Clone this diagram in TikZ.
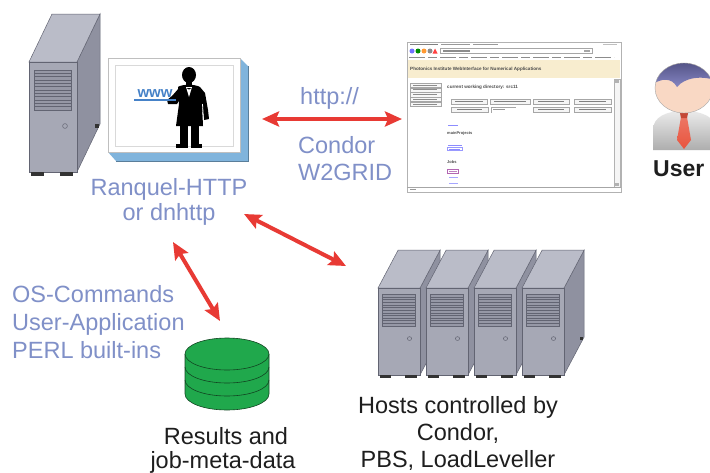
\documentclass[tikz,border=0pt]{standalone}
\usepackage{fontspec}
\setmainfont{Liberation Sans}
\usetikzlibrary{arrows.meta}

\definecolor{labelblue}{RGB}{128,144,200}
\definecolor{arrowred}{RGB}{232,58,52}
\definecolor{casefront}{RGB}{166,168,181}
\definecolor{casetop}{RGB}{186,188,200}
\definecolor{caseside}{RGB}{143,145,160}
\definecolor{caseline}{RGB}{98,100,114}
\definecolor{ventfill}{RGB}{150,152,166}
\definecolor{diskgreen}{RGB}{32,168,76}
\definecolor{diskline}{RGB}{18,70,34}
\definecolor{shadowblue}{RGB}{128,180,220}
\definecolor{wwwblue}{RGB}{70,130,200}
\definecolor{pagebeige}{RGB}{248,237,207}
\definecolor{hairpurple}{RGB}{112,112,184}
\definecolor{skin}{RGB}{249,216,196}
\definecolor{tiered}{RGB}{232,84,62}
\definecolor{textdark}{RGB}{30,30,30}

\tikzset{
  lbl/.style={text=labelblue, inner sep=0pt, font=\fontsize{23.5}{26}\selectfont},
  blk/.style={text=textdark, inner sep=0pt, font=\fontsize{23.5}{26}\selectfont},
  tinytext/.style={inner sep=0pt, text=black!70, font=\fontsize{4}{4}\selectfont\bfseries},
  redarrow/.style={draw=arrowred, line width=4pt,
    arrows={Stealth[length=17pt,width=15pt,inset=3pt]-Stealth[length=17pt,width=15pt,inset=3pt]}},
  webbtn/.style={draw=black!35, fill=black!4, line width=0.4pt},
  % a PC tower, origin at the top-left corner of its front panel
  tower/.pic={
    \filldraw[fill=caseside, draw=caseline, line width=0.5pt]
      (48,0) -- (71,-48) -- (71,62) -- (48,110) -- cycle;
    \filldraw[fill=casetop, draw=caseline, line width=0.5pt]
      (0,0) -- (23,-48) -- (71,-48) -- (48,0) -- cycle;
    \filldraw[fill=casefront, draw=caseline, line width=0.5pt]
      (0,0) rectangle (48,110);
    \filldraw[fill=ventfill, draw=caseline, line width=0.4pt]
      (5,8) rectangle (42,48);
    \foreach \i in {1,...,11}
      \draw[caseline, line width=0.4pt] (5,{8+3.33*\i}) -- (42,{8+3.33*\i});
    \draw[caseline, line width=0.5pt] (36,64) circle[radius=2.4pt];
    \fill[black!80] (2,110) rectangle (15,114);
    \fill[black!80] (31,110) rectangle (44,114);
    \fill[black!80] (66,62) rectangle (70,66);
  }
}

\begin{document}
\begin{tikzpicture}[x=1pt, y=-1pt]
\useasboundingbox[fill=white] (0,0) rectangle (710,472);

% ---------------- web server ----------------
\pic (srv) at (29,62) {tower};

% framed picture of the waiter with the www tray
\fill[shadowblue] (240,58) -- (248,66) -- (248,161) -- (116,161) -- (108,152) -- (240,152) -- cycle;
\draw[shadowblue!70!black, line width=0.4pt] (248,66) -- (248,161) -- (116,161);
\filldraw[fill=white, draw=black!25, line width=0.5pt] (108,58) rectangle (240,152);
\draw[black!15, line width=0.5pt] (115,65) rectangle (233,146);

% waiter silhouette
\fill[black] (189,75) ellipse[x radius=7pt, y radius=8pt];
\fill[black] (186,80) rectangle (192,87);
\fill[black] (178,87) .. controls (182,84) and (195,84) .. (200,87)
  -- (205,93) -- (208,110) -- (209,119) -- (204,120) -- (202,104)
  -- (203,126) -- (176,126) -- (179,104) -- (178,96) -- cycle;
\fill[black] (179,88) -- (172,96) -- (167,100) -- (168,104) -- (177,104) -- (180,99) -- cycle;
\fill[white] (186,87) -- (192,87) -- (189,97) -- cycle;
\fill[black] (186.5,88) -- (191.5,88) -- (189,89.5) -- cycle;
\draw[white, line width=0.8pt] (202.5,104) -- (203.5,120);
\fill[black] (180,125) rectangle (187.5,145);
\fill[black] (191,125) rectangle (198.5,145);
\fill[black] (176,144) rectangle (187.5,148);
\fill[black] (191,144) rectangle (202,148);
\draw[wwwblue, line width=2.6pt] (134,100) -- (176,100);
\node[inner sep=0pt, text=wwwblue, anchor=base, font=\fontsize{15}{15}\selectfont\bfseries]
  (www) at (155,97) {www};

\node[lbl, anchor=base] (ranquel) at (169,195) {Ranquel-HTTP};
\node[lbl, anchor=base] (dnhttp) at (169,220) {or dnhttp};

% ---------------- browser window ----------------
\filldraw[fill=white, draw=black!30, line width=0.5pt] (407,42) rectangle (621,192);
\fill[black!50] (410,43.5) rectangle (438,45);
\fill[black!40] (441,43.5) rectangle (470,45);
\fill[black!40] (473,43.5) rectangle (498,45);
\fill[black!25] (603,43.5) rectangle (617,45);
\fill[blue!55] (412,51) circle[radius=2.5pt];
\fill[green!55!black] (418,51) circle[radius=2.5pt];
\fill[orange!80] (424,51) circle[radius=2.5pt];
\fill[black!45] (430,51) circle[radius=2.5pt];
\fill[red!75] (435,48.5) -- (437.5,53.5) -- (432.5,53.5) -- cycle;
\filldraw[fill=white, draw=black!35, line width=0.4pt] (440,48.5) rectangle (592,53.5);
\fill[black!45] (443,50.3) rectangle (470,51.7);
\fill[black!35] (584,50.3) rectangle (590,51.7);
\draw[black!45, line width=1.1pt, dash pattern=on 16pt off 3pt on 9pt off 3pt] (409,57.5) -- (614,57.5);
\fill[pagebeige] (408,60) rectangle (620,78);
\node[tinytext, anchor=west, font=\fontsize{4.6}{5}\selectfont\bfseries] (ptitle) at (410,69)
  {Photonics Institute WebInterface for Numerical Applications};
% left navigation
\foreach \yy in {83,87.8,92.6,97.4,102.2}
  \draw[black!35, fill=black!3, line width=0.4pt] (410,\yy) rectangle (441,{\yy+4.2});
\foreach \yy in {83,87.8,92.6,97.4,102.2}
  \fill[black!45] (413,{\yy+1.6}) rectangle (437,{\yy+2.6});
\node[tinytext, anchor=west, font=\fontsize{4.6}{5}\selectfont\bfseries] (cwd) at (447,87)
  {current working directory: src11};
% command buttons
\foreach \a/\b in {451/487,490/530,533/569,574/611}
  \filldraw[webbtn] (\a,99) rectangle (\b,104.5);
\foreach \a/\b in {451/488,533/569,574/611}
  \filldraw[webbtn] (\a,107) rectangle (\b,112.5);
\draw[black!35, line width=0.4pt] (491,112.5) -- (491,107) -- (516,107);
\foreach \a/\b in {455/483,494/526,538/564,579/606}
  \fill[black!50] (\a,101.3) rectangle (\b,102.3);
\foreach \a/\b in {457/482,538/564,579/606}
  \fill[black!50] (\a,109.3) rectangle (\b,110.3);
\fill[black!40] (493,109.3) rectangle (505,110.3);
\fill[blue!45] (448,124.5) rectangle (458,125.5);
\node[tinytext, anchor=west] (mainproj) at (447,133) {mainProjects};
\fill[blue!45] (448,145) rectangle (462,146);
\draw[blue!40, line width=0.4pt] (447.5,147.5) rectangle (462.5,150.5);
\fill[blue!45] (449,148.5) rectangle (460,149.5);
\node[tinytext, anchor=west] (jobs) at (447,162) {Jobs};
\draw[violet!60, line width=0.5pt] (447.5,169.5) rectangle (458.5,173.5);
\fill[violet!50] (449,171) rectangle (457,172);
\fill[blue!35] (449,177) rectangle (458,178);
\fill[blue!35] (449,183) rectangle (458,184);
% scroll bar and status bar
\filldraw[fill=black!4, draw=black!30, line width=0.4pt] (614,79) rectangle (620,187);
\fill[black!30] (615,80) rectangle (619,83);
\fill[black!30] (615,183) rectangle (619,186);
\draw[black!35, line width=0.4pt] (407,187) -- (621,187);
\fill[black!40] (410,189) rectangle (416,190.3);

% ---------------- user ----------------
\shade[top color=white!92!black, bottom color=black!32]
  (653,150) -- (653,130) .. controls (653,117) and (666,111) .. (684,111)
  .. controls (702,111) and (716,117) .. (716,130) -- (716,150) -- cycle;
\shade[top color=tiered!80!white, bottom color=tiered]
  (681,117) -- (687,117) -- (691,140) -- (684,149) -- (677,140) -- cycle;
\fill[tiered!85!black] (679.5,111) -- (688.5,111) -- (687,118) -- (681,118) -- cycle;
\begin{scope}
  \clip (684,88) ellipse[x radius=29pt, y radius=25pt];
  \fill[skin] (684,88) ellipse[x radius=29pt, y radius=25pt];
  \shade[top color=hairpurple!70!black, bottom color=hairpurple!85!white]
    (650,86) .. controls (662,77) and (672,78) .. (677,87)
    .. controls (684,78) and (702,74) .. (720,82) -- (720,60) -- (650,60) -- cycle;
\end{scope}
\draw[black!35, line width=0.4pt] (684,88) ellipse[x radius=29pt, y radius=25pt];
\node[inner sep=0pt, anchor=base west, text=textdark,
  font=\fontsize{23}{26}\selectfont\bfseries] (user) at (653,176) {User};

% ---------------- http link ----------------
\node[lbl, anchor=base west] (http) at (300,104) {http://};
\node[lbl, anchor=base west] (condor) at (298,153) {Condor};
\node[lbl, anchor=base west] (w2grid) at (298,180) {W2GRID};

% ---------------- compute hosts ----------------
\foreach \xx in {378,426,474,522}
  \pic[xscale=0.875, yscale=0.79] at (\xx,288) {tower};
\node[blk, anchor=base] (hosts1) at (458,413) {Hosts controlled by};
\node[blk, anchor=base] (hosts2) at (458,440) {Condor,};
\node[blk, anchor=base] (hosts3) at (458,467) {PBS, LoadLeveller};

% ---------------- data store ----------------
\filldraw[fill=diskgreen, draw=diskline, line width=0.6pt]
  (185,354) -- (185,394) arc[start angle=180, end angle=360, x radius=42pt, y radius=16pt]
  -- (269,354);
\draw[diskline, line width=0.6pt] (185,367) arc[start angle=180, end angle=360, x radius=42pt, y radius=16pt];
\draw[diskline, line width=0.6pt] (185,380) arc[start angle=180, end angle=360, x radius=42pt, y radius=16pt];
\filldraw[fill=diskgreen, draw=diskline, line width=0.6pt] (227,354) ellipse[x radius=42pt, y radius=16pt];
\node[blk, anchor=base] (results) at (226,444) {Results and};
\node[blk, anchor=base] (jobdata) at (223,468) {job-meta-data};

\node[lbl, anchor=base west] (oscmd) at (12,302) {OS-Commands};
\node[lbl, anchor=base west] (userapp) at (12,330) {User-Application};
\node[lbl, anchor=base west] (perl) at (12,358) {PERL built-ins};

% ---------------- connectors ----------------
\coordinate (httpL) at (262,119);
\coordinate (httpR) at (402,119);
\coordinate (srvHosts) at (244,214);
\coordinate (hostsEnd) at (346,266);
\coordinate (srvDisk) at (173,242);
\coordinate (diskEnd) at (220,321);
\draw[redarrow] (httpL) -- (httpR);
\draw[redarrow] (srvHosts) -- (hostsEnd);
\draw[redarrow] (srvDisk) -- (diskEnd);
\end{tikzpicture}
\end{document}
